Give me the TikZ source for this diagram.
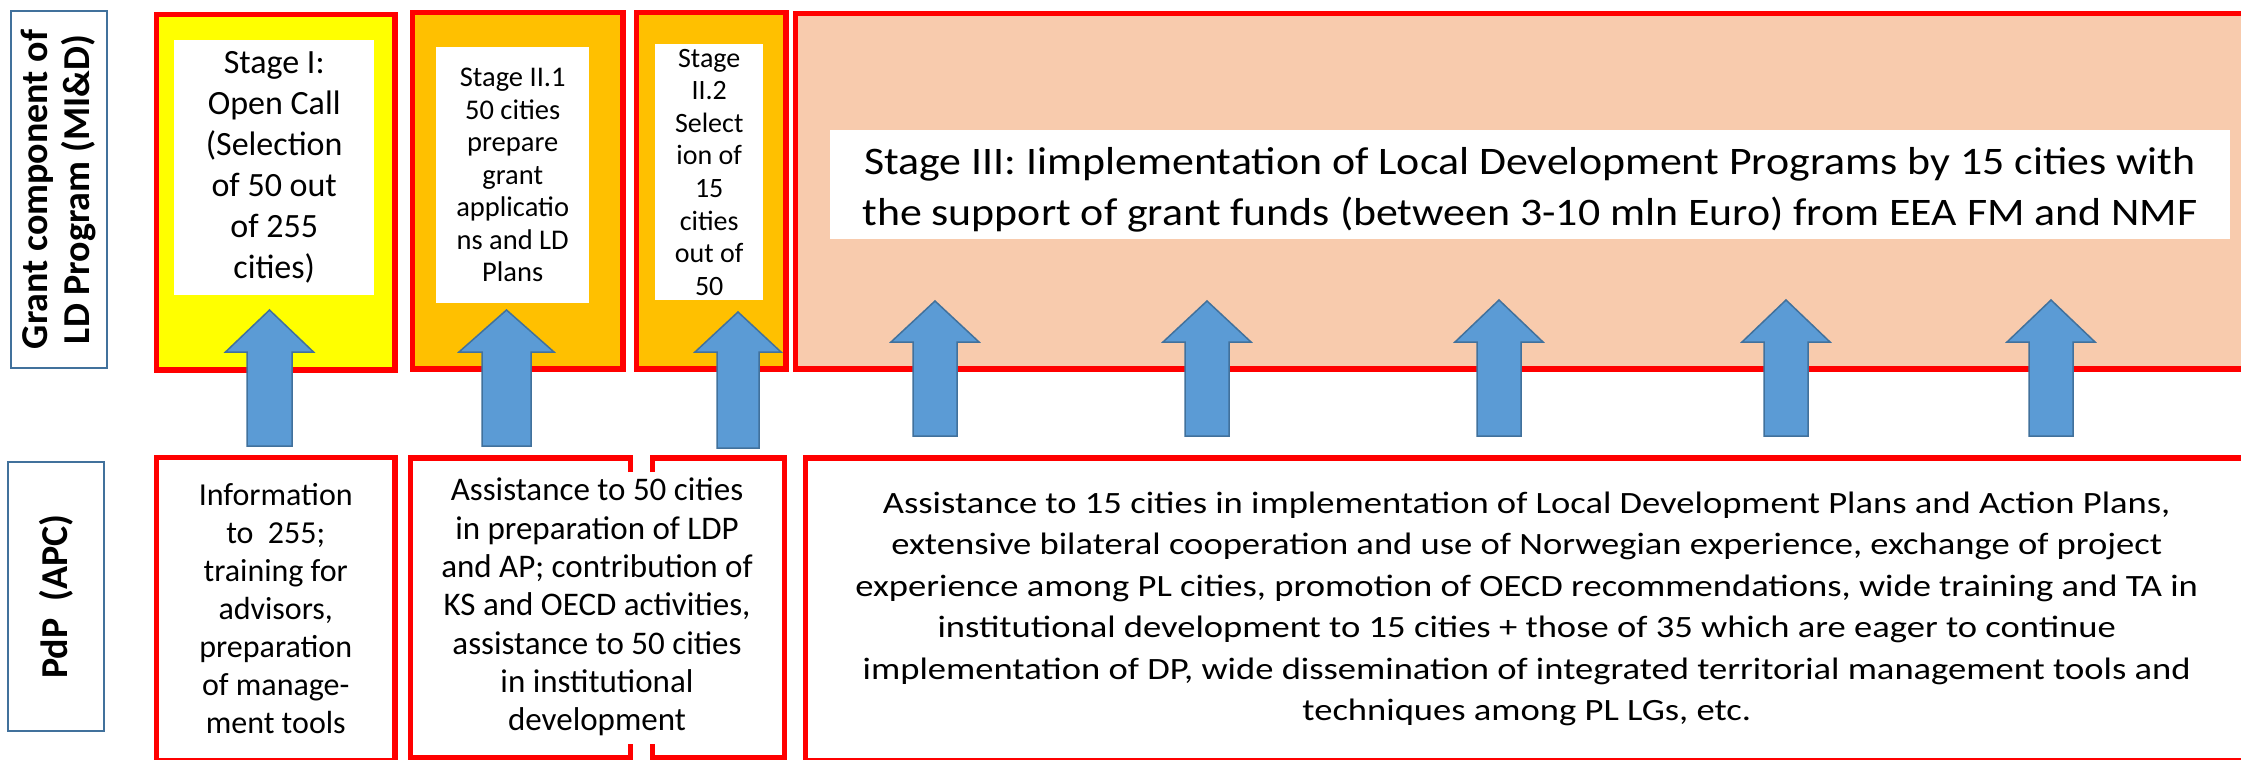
\documentclass[tikz,border=0pt]{standalone}
\usepackage{fontspec}
\setmainfont{Carlito}
\newfontfamily\widethree[FakeStretch=1.124]{Carlito}
\newfontfamily\widebottom[FakeStretch=1.18]{Carlito}
\definecolor{redline}{HTML}{FF0000}
\definecolor{yellowc}{HTML}{FFFF00}
\definecolor{orangec}{HTML}{FFC000}
\definecolor{peachc}{HTML}{F8CBAD}
\definecolor{arrowfill}{HTML}{5B9BD5}
\definecolor{arrowline}{HTML}{41719C}
\definecolor{labelline}{HTML}{41719C}
\newcommand\fs[2]{\fontsize{#1}{#2}\selectfont}
\newcommand\blockup[6]{%
  \filldraw[blockarrow] (#1,#2) -- (#1+#5,#3) -- (#1+#6,#3) -- (#1+#6,#4)
    -- (#1-#6,#4) -- (#1-#6,#3) -- (#1-#5,#3) -- cycle;}
\begin{document}
\begin{tikzpicture}[x=1pt,y=-1pt,
  stagebox/.style={draw=redline, line width=5.5pt, inner sep=0pt, anchor=north west},
  whitebox/.style={fill=white, inner sep=0pt, anchor=north west, align=center},
  labelbox/.style={draw=labelline, line width=2pt, inner sep=0pt, rotate=90,
    align=center, font=\bfseries\fs{38}{42}},
  blockarrow/.style={fill=arrowfill, draw=arrowline, line width=1.5pt, line join=miter}]
\useasboundingbox (0,0) rectangle (2241,760);
\clip (0,0) rectangle (2241,760);

% side labels
\node[labelbox, minimum width=357pt, minimum height=96pt] (lab1) at (59,189.5)
  {Grant component of\\LD Program (MI\&D)};
\node[labelbox, minimum width=269pt, minimum height=96pt] (lab2) at (56,596.5)
  {PdP\ \ (APC)};

% top stage boxes
\node[stagebox, fill=yellowc, minimum width=238.5pt, minimum height=355.5pt] (s1) at (153.75,11.75) {};
\node[stagebox, fill=orangec, minimum width=210.5pt, minimum height=356.5pt] (s21) at (409.75,9.75) {};
\node[stagebox, fill=orangec, minimum width=149.5pt, minimum height=356.5pt] (s22) at (633.75,9.75) {};
\node[stagebox, fill=peachc, minimum width=1470pt, minimum height=355.5pt] (s3) at (792.75,10.75) {};

% white text boxes
\node[whitebox, minimum width=200pt, minimum height=255pt, font=\fs{34}{41}] (w1) at (174,40)
  {Stage I:\\Open Call\\(Selection\\of 50 out\\of 255\\cities)};
\node[whitebox, minimum width=153pt, minimum height=256pt, font=\fs{28.5}{32.5}] (w21) at (436,47)
  {Stage II.1\\50 cities\\prepare\\grant\\applicatio\\ns and LD\\Plans};
\node[whitebox, minimum width=108pt, minimum height=256pt, font=\fs{28}{32.6}] (w22) at (655,44)
  {Stage\\II.2\\Select\\ion of\\15\\cities\\out of\\50};
\node[whitebox, minimum width=1400pt, minimum height=109pt] (w3) at (830,130) {};
\node[align=center, inner sep=0pt, font=\widethree\fs{39}{51}] (w3text) at (1530,189.5)
  {Stage III: Iimplementation of Local Development Programs by 15 cities with\\the support of grant funds (between 3-10 mln Euro) from EEA FM and NMF};

% bottom boxes
\node[stagebox, fill=white, minimum width=238.5pt, minimum height=303pt, align=center,
  font=\fs{32}{38}] (b1) at (153.75,454.75)
  {Information\\to\ \ 255;\\training for\\advisors,\\preparation\\of manage-\\ment tools};
\draw[redline, line width=5.5pt, line join=miter] (630.5,472) -- (630.5,458) -- (410.5,458)
  -- (410.5,758) -- (630.5,758) -- (630.5,744);
\draw[redline, line width=5.5pt, line join=miter] (652.5,472) -- (652.5,458) -- (784.5,458)
  -- (784.5,758) -- (652.5,758) -- (652.5,744);
\node[align=center, inner sep=0pt, font=\fs{33}{38.3}] (b2) at (597,607)
  {Assistance to 50 cities\\in preparation of LDP\\and AP; contribution of\\KS and OECD activities,\\assistance to 50 cities\\in institutional\\development};
\node[stagebox, fill=white, minimum width=1442.5pt, minimum height=302.5pt, align=center,
  font=\widebottom\fs{31}{41.5}] (b3) at (802.75,455)
  {Assistance to 15 cities in implementation of Local Development Plans and Action Plans,\\
   extensive bilateral cooperation and use of Norwegian experience, exchange of project\\
   experience among PL cities, promotion of OECD recommendations, wide training and TA in\\
   institutional development to 15 cities + those of 35 which are eager to continue\\
   implementation of DP, wide dissemination of integrated territorial management tools and\\
   techniques among PL LGs, etc.};

% block arrows
\blockup{269.5}{310}{352}{446}{44}{22.5}
\blockup{506.5}{310}{352}{446}{47.5}{24.5}
\blockup{738}{312}{352}{448}{43}{21}
\blockup{935}{301}{342}{436}{44}{22}
\blockup{1207}{301}{342}{436}{44}{22}
\blockup{1499}{300}{342}{436}{44}{22}
\blockup{1786}{300}{342}{436}{44}{22}
\blockup{2051}{300}{342}{436}{44}{22}
\end{tikzpicture}
\end{document}
